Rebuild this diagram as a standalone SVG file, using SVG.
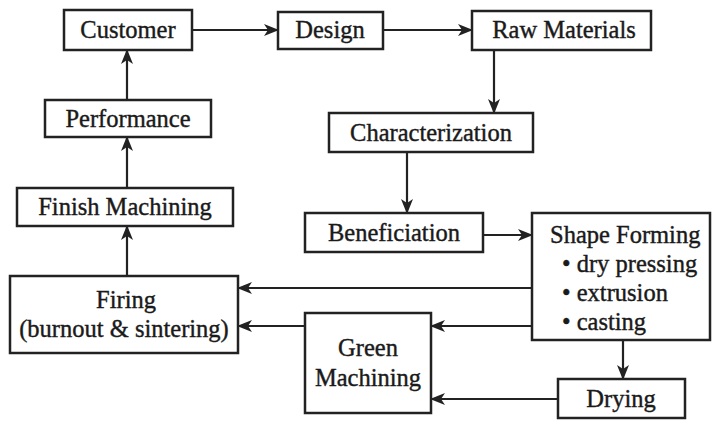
<svg xmlns="http://www.w3.org/2000/svg" width="713" height="421" viewBox="0 0 713 421">
<style>
.box{fill:#fff;stroke:#222;stroke-width:2.5}
text{font-family:'Liberation Serif','DejaVu Serif',serif;font-size:24.5px;fill:#1a1a1a;stroke:#1a1a1a;stroke-width:0.4}
.t{text-anchor:middle}
.c{stroke:#222;stroke-width:2.2;fill:none;marker-end:url(#ah)}
</style>
<defs>
<marker id="ah" markerWidth="15" markerHeight="12" refX="14" refY="6" orient="auto" markerUnits="userSpaceOnUse">
<path d="M0,0 L15,6 L0,12 L4,6 Z" fill="#222"/>
</marker>
</defs>
<rect width="713" height="421" fill="#fff"/>
<g id="connectors">
<line class="c" x1="192" y1="30" x2="278" y2="30"/>
<line class="c" x1="383" y1="30" x2="472" y2="30"/>
<line class="c" x1="494" y1="50" x2="494" y2="113"/>
<line class="c" x1="407" y1="152" x2="407" y2="213"/>
<line class="c" x1="483" y1="235" x2="532" y2="235"/>
<line class="c" x1="532" y1="288" x2="238" y2="288"/>
<line class="c" x1="532" y1="326" x2="431" y2="326"/>
<line class="c" x1="305" y1="326" x2="238" y2="326"/>
<line class="c" x1="623" y1="340" x2="623" y2="379"/>
<line class="c" x1="558" y1="399" x2="431" y2="399"/>
<line class="c" x1="127" y1="276" x2="127" y2="226"/>
<line class="c" x1="127" y1="188" x2="127" y2="137"/>
<line class="c" x1="127" y1="100" x2="127" y2="50"/>
</g>
<g id="customer"><rect class="box" x="64" y="10" width="128" height="40"/><text class="t" x="128" y="38">Customer</text></g>
<g id="design"><rect class="box" x="278" y="12" width="105" height="37"/><text class="t" x="330" y="38">Design</text></g>
<g id="raw-materials"><rect class="box" x="472" y="11" width="179" height="39"/><text class="t" x="564" y="38">Raw Materials</text></g>
<g id="characterization"><rect class="box" x="329" y="113" width="204" height="39"/><text class="t" x="431" y="141">Characterization</text></g>
<g id="performance"><rect class="box" x="45" y="100" width="166" height="37"/><text class="t" x="128" y="127">Performance</text></g>
<g id="finish-machining"><rect class="box" x="17" y="188" width="216" height="38"/><text class="t" x="125" y="215">Finish Machining</text></g>
<g id="firing"><rect class="box" x="10" y="276" width="228" height="77"/><text class="t" x="126" y="308">Firing</text><text class="t" x="124" y="337">(burnout &amp; sintering)</text></g>
<g id="beneficiation"><rect class="box" x="305" y="213" width="178" height="39"/><text class="t" x="394" y="241">Beneficiation</text></g>
<g id="shape-forming"><rect class="box" x="532" y="213" width="178" height="127"/><text x="550" y="243">Shape Forming</text><text x="562" y="272">• dry pressing</text><text x="562" y="301">• extrusion</text><text x="562" y="330">• casting</text></g>
<g id="green-machining"><rect class="box" x="305" y="313" width="126" height="100"/><text class="t" x="368" y="356">Green</text><text class="t" x="368" y="386">Machining</text></g>
<g id="drying"><rect class="box" x="558" y="379" width="127" height="39"/><text class="t" x="621" y="407">Drying</text></g>
</svg>
